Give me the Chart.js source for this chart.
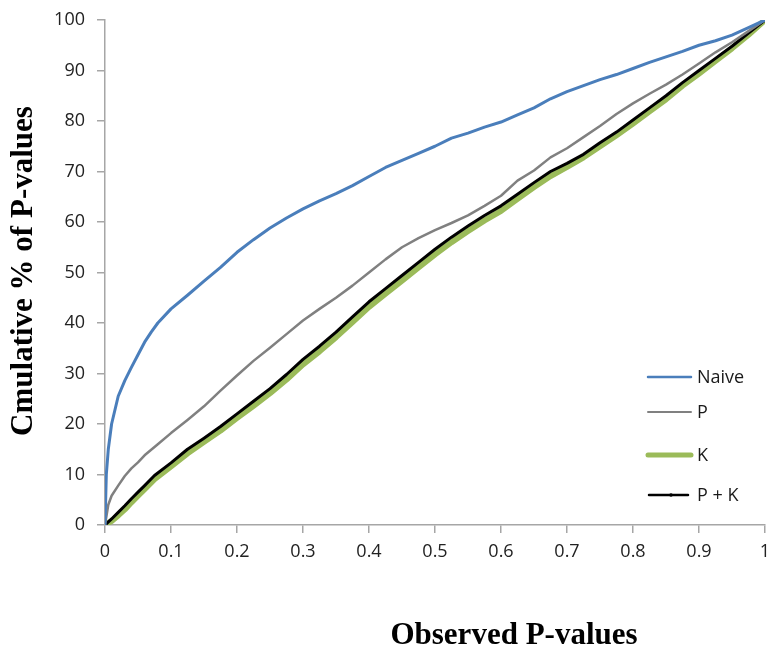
<!DOCTYPE html>
<html>
<head>
<meta charset="utf-8">
<script src="https://cdn.jsdelivr.net/npm/chart.js@4.4.0/dist/chart.umd.min.js"></script>
<style>
body { margin: 0; background: #fff; }
</style>
</head>
<body>
<canvas id="myChart" width="771" height="652"></canvas>
<script>
let x_tick_labels = ['0', '0.1', '0.2', '0.3', '0.4', '0.5', '0.6', '0.7', '0.8', '0.9', '1'];
let y_tick_labels = ['0', '10', '20', '30', '40', '50', '60', '70', '80', '90', '100'];
let series_names = ['Naive', 'P', 'K', 'P + K'];
let x_title = 'Observed P-values';
let y_title = 'Cmulative % of P-values';

let naive_x = [0, 0.002, 0.005, 0.01, 0.02, 0.03, 0.04, 0.05, 0.06, 0.07, 0.08,
    0.1, 0.125, 0.15, 0.175, 0.2, 0.225, 0.25, 0.275, 0.3, 0.325, 0.35, 0.375, 0.4,
    0.425, 0.45, 0.475, 0.5, 0.525, 0.55, 0.575, 0.6, 0.625, 0.65, 0.675, 0.7,
    0.725, 0.75, 0.775, 0.8, 0.825, 0.85, 0.875, 0.9, 0.925, 0.95, 0.975, 1];
let naive_y = [0, 10, 15, 20, 25.5, 28.6, 31.2, 33.7, 36.2, 38.2, 40,
    42.8, 45.5, 48.3, 51, 54, 56.5, 58.8, 60.8, 62.6, 64.2, 65.6, 67.2, 69,
    70.8, 72.2, 73.6, 75, 76.6, 77.6, 78.8, 79.8, 81.2, 82.6, 84.4, 85.8,
    87, 88.2, 89.2, 90.4, 91.6, 92.7, 93.8, 95, 95.9, 97, 98.5, 100];

let p_x = [0, 0.005, 0.01, 0.02, 0.03, 0.04, 0.05, 0.06, 0.08,
    0.1, 0.125, 0.15, 0.175, 0.2, 0.225, 0.25, 0.275, 0.3, 0.325, 0.35, 0.375, 0.4,
    0.425, 0.45, 0.475, 0.5, 0.525, 0.55, 0.575, 0.6, 0.625, 0.65, 0.675, 0.7,
    0.725, 0.75, 0.775, 0.8, 0.825, 0.85, 0.875, 0.9, 0.925, 0.95, 0.975, 1];
let p_y = [0, 4, 5.8, 7.8, 9.7, 11.2, 12.4, 13.8, 16,
    18.2, 20.8, 23.5, 26.6, 29.6, 32.5, 35.1, 37.8, 40.5, 42.8, 45, 47.4, 50,
    52.6, 55, 56.8, 58.4, 59.8, 61.3, 63.2, 65.2, 68.2, 70.2, 72.8, 74.6,
    76.8, 79, 81.4, 83.5, 85.4, 87.2, 89.2, 91.4, 93.6, 95.6, 97.8, 100];

let pk_x = [0, 0.01, 0.02, 0.03, 0.04, 0.05, 0.06, 0.075,
    0.1, 0.125, 0.15, 0.175, 0.2, 0.225, 0.25, 0.275, 0.3, 0.325, 0.35, 0.375, 0.4,
    0.425, 0.45, 0.475, 0.5, 0.525, 0.55, 0.575, 0.6, 0.625, 0.65, 0.675, 0.7,
    0.725, 0.75, 0.775, 0.8, 0.825, 0.85, 0.875, 0.9, 0.925, 0.95, 0.975, 1];
let k_y = [0, 0.8, 1.9, 3.1, 4.5, 5.8, 7.1, 9.1,
    11.6, 14.2, 16.5, 18.7, 21.2, 23.6, 26.1, 28.8, 31.8, 34.4, 37.2, 40.2, 43.2,
    45.8, 48.4, 51, 53.6, 56, 58.2, 60.3, 62.2, 64.6, 66.9, 69.1, 70.9,
    72.8, 75, 77.2, 79.5, 81.9, 84.3, 87, 89.4, 91.9, 94.4, 97.1, 100];
let pk_y = [0, 1.2, 2.5, 3.8, 5.2, 6.5, 7.8, 9.8,
    12.3, 15, 17.2, 19.5, 22, 24.5, 27, 29.8, 32.8, 35.4, 38.2, 41.2, 44.2,
    46.8, 49.4, 52, 54.6, 57, 59.2, 61.3, 63.2, 65.5, 67.8, 70, 71.6,
    73.4, 75.7, 77.8, 80.2, 82.6, 85, 87.6, 90, 92.4, 94.8, 97.4, 100];

let line_colors = ['#4A7EBB', '#808080', '#9BBB59', '#000000'];
let line_widths = [3, 2.5, 6, 3];

function to_points(xs, ys) {
    let pts = [];
    for (let i = 0; i < xs.length && i < ys.length; i++) {
        pts.push({x: xs[i], y: ys[i]});
    }
    return pts;
}

// axis titles and the in-plot legend, drawn by hand
const titlesAndLegend = {
    id: 'titlesAndLegend',
    afterDraw(chart) {
        const ctx = chart.ctx;
        ctx.save();
        ctx.fillStyle = '#000';
        ctx.font = 'bold 31px "Liberation Serif", "Times New Roman", serif';
        ctx.textAlign = 'center';
        ctx.textBaseline = 'middle';
        ctx.fillText(x_title, 514, 636);
        ctx.translate(24, 271);
        ctx.rotate(-Math.PI / 2);
        ctx.fillText(y_title, 0, 0);
        ctx.restore();

        let rows = [377, 412, 455, 495];
        ctx.save();
        ctx.font = '18px "Open Sans", sans-serif';
        ctx.textAlign = 'left';
        ctx.textBaseline = 'middle';
        ctx.lineCap = 'round';
        for (let i = 0; i < series_names.length; i++) {
            ctx.strokeStyle = line_colors[i];
            ctx.lineWidth = i == 2 ? 5 : (i == 1 ? 2 : 2.5);
            ctx.beginPath();
            ctx.moveTo(i == 3 ? 649 : 648, rows[i]);
            ctx.lineTo(i == 3 ? 688 : 691, rows[i]);
            ctx.stroke();
            if (i == 3) {
                ctx.fillStyle = '#000';
                ctx.beginPath();
                ctx.arc(671, rows[i], 1.8, 0, Math.PI * 2);
                ctx.fill();
            }
            ctx.fillStyle = '#1a1a1a';
            ctx.fillText(series_names[i], 697, rows[i] + 1);
        }
        ctx.restore();
    }
};

let config = {
    type: 'line',
    data: {
        datasets: [
            {
                label: series_names[0],
                data: to_points(naive_x, naive_y),
                borderColor: line_colors[0],
                borderWidth: line_widths[0],
                order: 1
            },
            {
                label: series_names[1],
                data: to_points(p_x, p_y),
                borderColor: line_colors[1],
                borderWidth: line_widths[1],
                order: 2
            },
            {
                label: series_names[2],
                data: to_points(pk_x, k_y),
                borderColor: line_colors[2],
                borderWidth: line_widths[2],
                order: 4
            },
            {
                label: series_names[3],
                data: to_points(pk_x, pk_y),
                borderColor: line_colors[3],
                borderWidth: line_widths[3],
                order: 3
            }
        ]
    },
    options: {
        responsive: false,
        animation: false,
        layout: {
            padding: {top: 20, right: 6, left: 0, bottom: 0}
        },
        elements: {
            point: {radius: 0},
            line: {tension: 0, fill: false, borderJoinStyle: 'round'}
        },
        plugins: {
            legend: {display: false},
            tooltip: {enabled: false}
        },
        scales: {
            x: {
                type: 'linear',
                min: 0,
                max: 1,
                ticks: {
                    stepSize: 0.1,
                    autoSkip: false,
                    maxRotation: 0,
                    padding: 8,
                    color: '#222',
                    font: {family: 'Open Sans', size: 18},
                    callback(value, index) {
                        return x_tick_labels[index];
                    }
                },
                grid: {
                    drawOnChartArea: false,
                    drawTicks: true,
                    tickLength: 8,
                    color: '#A6A6A6',
                    lineWidth: 1.5
                },
                border: {color: '#A6A6A6', width: 1.5},
                afterFit(scale) {
                    scale.height = 127;
                    scale.paddingLeft = 0;
                    scale.paddingRight = 0;
                }
            },
            y: {
                min: 0,
                max: 100,
                ticks: {
                    stepSize: 10,
                    padding: 12,
                    color: '#222',
                    font: {family: 'Open Sans', size: 18},
                    callback(value, index) {
                        return y_tick_labels[index];
                    }
                },
                grid: {
                    drawOnChartArea: false,
                    drawTicks: true,
                    tickLength: 8,
                    color: '#A6A6A6',
                    lineWidth: 1.5
                },
                border: {color: '#A6A6A6', width: 1.5},
                afterFit(scale) {
                    scale.width = 105;
                    scale.paddingTop = 0;
                    scale.paddingBottom = 0;
                }
            }
        }
    },
    plugins: [titlesAndLegend]
};

const ctx = document.getElementById('myChart');
window.chart = new Chart(ctx, config);
</script>
</body>
</html>
